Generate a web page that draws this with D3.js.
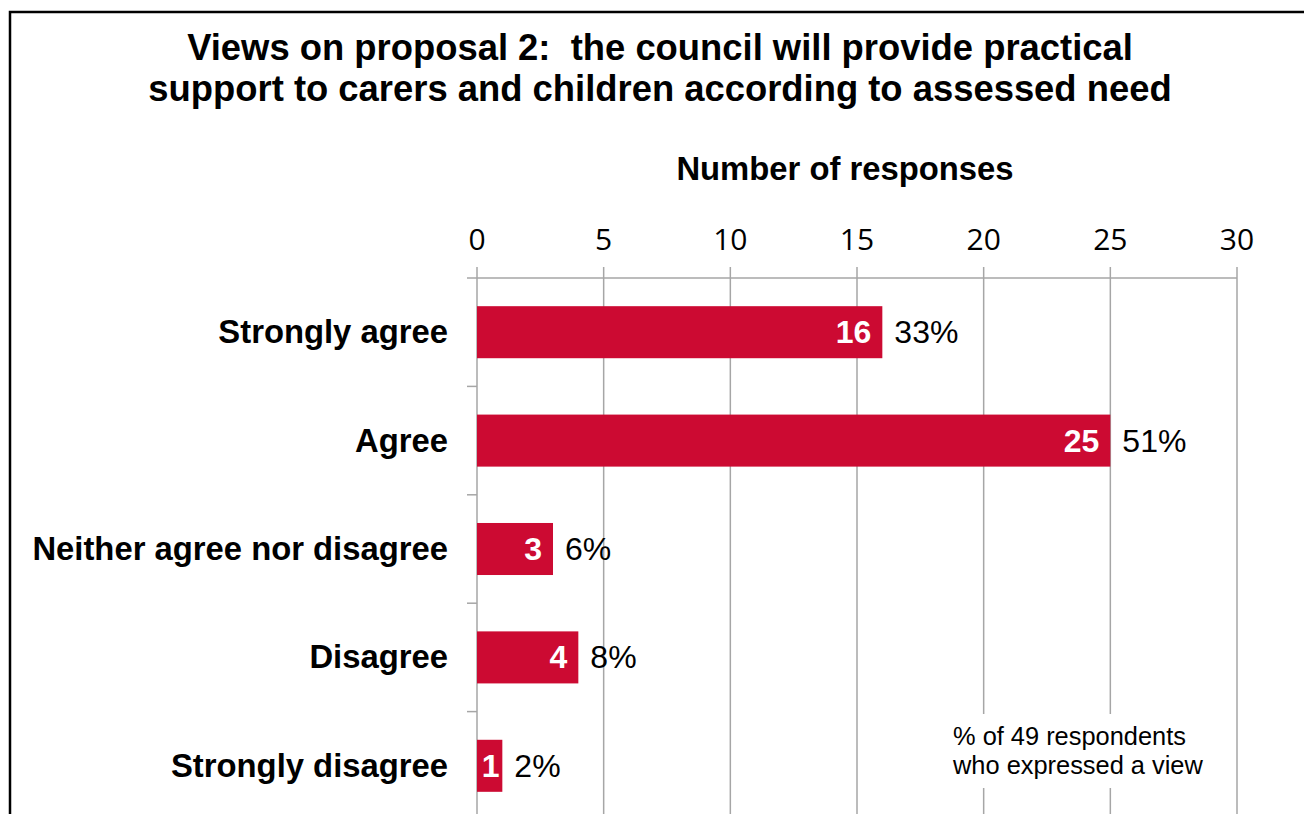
<!DOCTYPE html>
<html lang="en">
<head>
    <meta charset="UTF-8">
    <script src="https://d3js.org/d3.v7.min.js"></script>
    <title>Views on proposal 2</title>
    <style>
        body {
            margin: 0;
            background-color: #ffffff;
        }
        svg {
            display: block;
        }
        .cat { font-family: "Liberation Sans", Arial, sans-serif; font-weight: bold; font-size: 32.8px; }
        .tick-label { font-family: "Open Sans", "Liberation Sans", sans-serif; font-size: 30px; }
    </style>
</head>
<body>

    <svg id="chart" width="1304" height="814"></svg>

    <script>
        // data
        const categories = ["Strongly agree", "Agree", "Neither agree nor disagree", "Disagree", "Strongly disagree"];
        const counts = [16, 25, 3, 4, 1];
        const percents = ["33%", "51%", "6%", "8%", "2%"];
        const tickValues = [0, 5, 10, 15, 20, 25, 30];
        const titleLines = ["Views on proposal 2:  the council will provide practical",
                            "support to carers and children according to assessed need"];
        const noteLines = ["% of 49 respondents", "who expressed a view"];

        const barColor = "#cc0a32";
        const gridColor = "#a6a6a6";
        const plotTop = 278;
        const plotBottom = 820;

        const svg = d3.select("#chart");

        // frame (right and bottom edges fall outside the picture)
        svg.append("rect")
            .attr("x", 10)
            .attr("y", 12)
            .attr("width", 1400)
            .attr("height", 900)
            .attr("fill", "white")
            .attr("stroke", "black")
            .attr("stroke-width", 2.5);

        // title
        svg.append("text")
            .attr("x", 660)
            .attr("text-anchor", "middle")
            .style("font-family", "'Liberation Sans', Arial, sans-serif")
            .style("font-weight", "bold")
            .style("font-size", "36.4px")
            .selectAll("tspan")
            .data(titleLines)
            .join("tspan")
            .attr("x", 660)
            .attr("y", (d, i) => 60 + i * 41)
            .attr("xml:space", "preserve")
            .style("white-space", "pre")
            .text(d => d);

        const x = d3.scaleLinear().domain([0, 30]).range([477, 1237]);
        const y = d3.scaleBand().domain(categories).range([plotTop, plotBottom]);
        const barH = y.bandwidth() * 0.48;

        // axis title
        svg.append("text")
            .attr("class", "cat")
            .attr("x", 845)
            .attr("y", 180)
            .attr("text-anchor", "middle")
            .text("Number of responses");

        // gridlines + top tick marks
        svg.append("g")
            .selectAll("line")
            .data(tickValues)
            .join("line")
            .attr("x1", d => x(d))
            .attr("x2", d => x(d))
            .attr("y1", plotTop - 11)
            .attr("y2", plotBottom)
            .attr("stroke", gridColor)
            .attr("stroke-width", 1.5);

        // top axis line
        svg.append("line")
            .attr("x1", x(0) - 10)
            .attr("x2", x(30))
            .attr("y1", plotTop)
            .attr("y2", plotTop)
            .attr("stroke", gridColor)
            .attr("stroke-width", 1.5);

        // tick labels
        svg.append("g")
            .selectAll("text")
            .data(tickValues)
            .join("text")
            .attr("class", "tick-label")
            .attr("x", d => x(d))
            .attr("y", 250)
            .attr("text-anchor", "middle")
            .text(d => d);

        // category tick marks on the left axis
        svg.append("g")
            .selectAll("line")
            .data(categories)
            .join("line")
            .attr("x1", x(0) - 10)
            .attr("x2", x(0))
            .attr("y1", d => y(d) + y.step())
            .attr("y2", d => y(d) + y.step())
            .attr("stroke", gridColor)
            .attr("stroke-width", 1.5);

        // category labels
        svg.append("g")
            .selectAll("text")
            .data(categories)
            .join("text")
            .attr("class", "cat")
            .attr("x", 448)
            .attr("y", d => y(d) + y.bandwidth() / 2 + 11)
            .attr("text-anchor", "end")
            .text(d => d);

        // bars
        svg.append("g")
            .selectAll("rect")
            .data(counts)
            .join("rect")
            .attr("x", x(0))
            .attr("y", (d, i) => y(categories[i]) + (y.bandwidth() - barH) / 2)
            .attr("width", d => x(d) - x(0))
            .attr("height", barH)
            .attr("fill", barColor);

        // count labels inside bars (centred when the bar is narrow)
        const narrow = d => x(d) - x(0) < 40;
        svg.append("g")
            .selectAll("text")
            .data(counts)
            .join("text")
            .attr("x", d => narrow(d) ? (x(0) + x(d)) / 2 + 1 : x(d) - 11)
            .attr("y", (d, i) => y(categories[i]) + y.bandwidth() / 2 + 11)
            .attr("text-anchor", d => narrow(d) ? "middle" : "end")
            .attr("fill", "white")
            .style("font-family", "'Liberation Sans', Arial, sans-serif")
            .style("font-weight", "bold")
            .style("font-size", "32px")
            .text(d => d);

        // percent labels
        svg.append("g")
            .selectAll("text")
            .data(counts)
            .join("text")
            .attr("x", d => x(d) + 12)
            .attr("y", (d, i) => y(categories[i]) + y.bandwidth() / 2 + 11)
            .style("font-family", "'Liberation Sans', Arial, sans-serif")
            .style("font-size", "32px")
            .text((d, i) => percents[i]);

        // note box
        svg.append("rect")
            .attr("x", 942)
            .attr("y", 714)
            .attr("width", 262)
            .attr("height", 74)
            .attr("fill", "white");

        svg.append("text")
            .style("font-family", "'Liberation Sans', Arial, sans-serif")
            .style("font-size", "25.4px")
            .selectAll("tspan")
            .data(noteLines)
            .join("tspan")
            .attr("x", 953)
            .attr("y", (d, i) => 745 + i * 29)
            .text(d => d);
    </script>

</body>
</html>
